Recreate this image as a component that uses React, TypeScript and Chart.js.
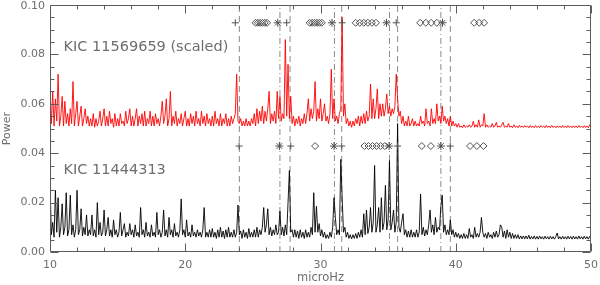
import React, { useEffect, useRef } from 'react';
import { Chart, registerables } from 'chart.js';

Chart.register(...registerables);

// Frequency grid of both spectra (microHz)
const FREQ_START = 10.0;
const FREQ_STEP = 0.1;

// Power of KIC 11569659 (scaled, offset), in units of 1e-3, one value per 0.1 microHz from 10.0 to 50.0
const redPowerMilli = [
  66, 52, 65, 51, 62, 53, 72, 51, 55, 63,
  51, 61, 52, 56, 51, 58, 52, 69, 51, 56,
  61, 51, 55, 59, 51, 54, 58, 52, 55, 51,
  54, 51, 56, 50.5, 54, 51, 53, 57, 51, 54,
  58, 51, 55, 51, 57, 52, 54, 50.5, 56, 51,
  54, 51, 56, 52, 53, 51, 57, 52, 54, 58,
  51, 55, 51, 54, 58, 51, 55, 52, 56, 51,
  57, 51, 54, 52, 57, 51, 55, 51, 56, 52,
  54, 51, 55, 61, 52, 55, 62, 51, 54, 65,
  51, 55, 52, 57, 51, 54, 52, 56, 51, 54,
  57, 51, 54, 51, 56, 52, 55, 51, 57, 52,
  54, 51, 57, 52, 55, 51, 56, 52, 54, 51,
  55, 51, 57, 52, 54, 51, 56, 51, 54, 52,
  56, 51, 54, 51, 55, 52, 54, 56, 72, 53,
  52, 54, 51, 53, 51, 54, 51, 53, 51, 54,
  52, 56, 51, 58, 52, 57, 53, 59, 52, 57,
  53, 58, 65, 52, 56, 53, 57, 52, 65, 54,
  63, 53, 56, 54, 86, 55, 76, 54, 63, 52,
  55, 51, 54, 52, 55, 51, 54, 52, 56, 52,
  56, 62, 53, 58, 54, 57, 69, 53, 58, 54,
  62, 53, 56, 60, 53, 55, 52, 56, 74, 54,
  62, 53, 55, 52, 56, 58, 95, 55, 60, 52,
  54, 51, 53, 50.5, 53, 51, 54, 52, 55, 51,
  55, 52, 56, 52, 57, 53, 55, 68, 54, 62,
  54, 58, 66, 54, 60, 55, 60, 55, 58, 64,
  56, 59, 55, 58, 56, 59, 72, 62, 55, 57,
  52, 55, 51, 53, 51, 55, 51, 52, 54, 51,
  53, 51, 52, 51, 55, 52, 53, 51, 58, 52,
  53, 51, 58, 52, 54, 52, 60, 53, 55, 52,
  59, 53, 55, 52, 54, 51, 55, 51, 53, 51,
  52, 50.5, 52, 50.5, 51, 50.3, 51.5, 50.5, 51, 50.5,
  51.5, 50.5, 51, 53, 50.5, 51.5, 50.5, 53.5, 50.5, 51.5,
  51, 56, 50.5, 51.5, 50.5, 51, 50.5, 52, 50.5, 51,
  52.5, 50.5, 51, 50.5, 51.5, 52.5, 50.5, 51, 50.5, 52,
  50.5, 51, 50.3, 51.5, 50.5, 51, 50.3, 51.3, 50.5, 51,
  50.4, 51.2, 50.5, 51, 50.3, 51.2, 50.4, 51, 50.3, 51.2,
  50.4, 51, 50.3, 51.2, 50.5, 51, 50.3, 51.3, 50.4, 51,
  50.3, 51.2, 50.4, 51, 50.3, 51.1, 50.4, 51, 50.3, 51.2,
  50.4, 51, 50.3, 51.2, 50.4, 51, 50.3, 51.1, 50.4, 51,
  50.3, 51.2, 50.4, 51, 50.3, 51.1, 50.4, 51, 50.3, 51.5,
  50.4,
];

// Power of KIC 11444313, in units of 1e-3, same grid
const blackPowerMilli = [
  28, 7, 12, 6, 25, 8, 22, 6, 10, 19.5,
  7, 10, 24, 6.5, 9, 23, 7, 11, 6, 9,
  25, 7, 9, 17.5, 6.5, 10, 7, 15, 6.5, 9,
  7, 15, 6.5, 9, 6, 20, 7, 12, 6.5, 8,
  17, 6.5, 9, 14, 6.5, 9, 6, 13, 7, 9,
  6, 8, 16, 6.5, 9, 11.5, 6, 8, 6.5, 11.5,
  7, 9, 6, 11, 6.5, 8, 6, 18, 7, 9,
  6, 12, 6.5, 8, 6, 11, 6.5, 8, 6, 16,
  7, 9, 6, 8, 17, 6.5, 9, 6, 14, 7,
  9, 6, 11.5, 6.5, 8, 6, 9, 21.5, 7, 9,
  6, 13, 6.5, 8, 6, 11, 6.5, 8, 6, 9,
  6.5, 8, 6, 9, 18, 6, 8, 6, 9, 6,
  9.5, 6, 8, 5.5, 9, 6, 10, 6, 8.5, 5.5,
  9, 6, 10, 6, 8, 6, 9, 6, 8, 19,
  7, 8.5, 5.5, 9, 6, 8, 5.5, 9.5, 6, 8,
  6, 9, 6, 10, 6, 9, 7, 10, 18, 8,
  11, 17.5, 7, 10, 6.5, 9, 7, 11, 7, 8,
  16.5, 7, 10, 6.5, 11, 7, 20, 33, 8, 9,
  6, 9, 6, 8.5, 5.5, 9, 6, 8, 5.5, 9,
  6, 8, 6, 10, 7, 24, 8, 18.5, 8, 11.5,
  6.5, 9, 6, 8, 5.5, 7, 5.5, 8, 6, 10,
  22, 14, 7, 9, 7, 37.5, 22, 8, 10, 6,
  8, 5.5, 7, 5.3, 7, 5.5, 7.5, 5.5, 8, 6,
  9, 6, 15.5, 7, 17, 7.5, 10, 18, 8, 12,
  35, 8, 11, 18, 8, 22, 9, 12, 27, 9,
  13, 37, 9, 12, 17, 8, 12, 52, 10, 8,
  12, 15.5, 7, 9, 6, 8.5, 6, 9, 6, 8,
  6, 9, 6, 8, 23.5, 7, 10, 6.5, 9, 7,
  11, 17, 8, 11, 7, 14, 8, 10, 9, 18.5,
  23, 8, 11, 7, 9, 7, 13, 7, 9, 6,
  8, 6, 7.5, 5.5, 7, 5.5, 7.5, 5.5, 7, 5.5,
  9.5, 6, 7, 5.5, 10, 6, 7.5, 6, 8, 14,
  8, 6, 7.5, 5.5, 8, 6, 7, 5.5, 8, 6,
  8.5, 6, 7, 11, 10, 6, 8.5, 5.5, 9, 6,
  8, 5.5, 7.5, 5.5, 7, 5.5, 7, 5.3, 6.5, 5.3,
  6.5, 5.3, 6.5, 5.3, 6.8, 5.2, 6.3, 5.3, 6.5, 5.2,
  6.3, 5.2, 6.5, 5.3, 6.2, 5.2, 6.4, 5.3, 6.2, 5.2,
  6.4, 5.3, 6.2, 5.2, 6.3, 7.7, 5.3, 6.2, 5.2, 6.4,
  5.3, 6.2, 5.2, 6.4, 5.3, 6.3, 5.2, 6.4, 5.3, 6.2,
  5.2, 6.5, 5.3, 6.2, 5.2, 6.4, 5.3, 6.2, 5.2, 6.3,
  5.3,
];

// Mode frequencies (microHz)
const dashedLines = [24.0, 27.75, 31.57, 35.7, 39.6];
const dashDotLines = [27.0, 31.03, 35.1, 38.9];

const redMarkerLevel = 0.0928;
const redPlus = [23.7, 27.5, 31.6, 35.6];
const redStar = [26.84, 30.85, 34.88, 39.02];
const redDiamond = [
  25.2, 25.37, 25.54, 25.71, 25.88, 26.05,
  29.2, 29.38, 29.56, 29.74, 29.92, 30.1,
  32.6, 32.9, 33.2, 33.5, 33.8, 34.1,
  37.37, 37.79, 38.18, 38.6,
  41.36, 41.73, 42.1,
];

const blackMarkerLevel = 0.0429;
const blackPlus = [23.98, 27.8, 31.57, 35.69, 39.59];
const blackStar = [26.96, 31.0, 35.07, 38.9];
const blackDiamond = [29.6, 33.25, 33.55, 33.85, 34.15, 34.45, 34.75, 37.49, 38.16, 41.06, 41.56, 42.05];

// Axes
const xMajorTicks = [10, 20, 30, 40, 50];
const xMinorTicks = [12, 14, 16, 18, 22, 24, 26, 28, 32, 34, 36, 38, 42, 44, 46, 48];
const yMajorTicks = [0, 0.02, 0.04, 0.06, 0.08, 0.1];
const yMinorTicks = [0.005, 0.01, 0.015, 0.025, 0.03, 0.035, 0.045, 0.05, 0.055, 0.065, 0.07, 0.075, 0.085, 0.09, 0.095];
const xTitle = 'microHz';
const yTitle = 'Power';

const starLabels = [
  { text: 'KIC 11569659 (scaled)', x: 11.0, y: 0.0814 },
  { text: 'KIC 11444313', x: 11.0, y: 0.0315 },
];

const FONT = '"DejaVu Sans", "Liberation Sans", sans-serif';
const AXIS_COLOR = '#5c5c5c';
const TEXT_COLOR = '#6e6e6e';

const idlAxes = {
  id: 'idlAxes',
  afterDatasetsDraw(chart: any) {
    const { ctx, chartArea: a, scales } = chart;
    const xs = scales.x;
    const ys = scales.y;
    ctx.save();
    ctx.strokeStyle = AXIS_COLOR;
    ctx.lineWidth = 1;
    const L = Math.round(a.left) + 0.5;
    const R = Math.round(a.right) - 0.5;
    const T = Math.round(a.top) + 0.5;
    const B = Math.round(a.bottom) - 0.5;
    ctx.beginPath();
    ctx.rect(L, T, R - L, B - T);
    ctx.stroke();

    const tick = (vals: number[], len: number, horiz: boolean) => {
      ctx.beginPath();
      for (const v of vals) {
        if (horiz) {
          const px = Math.round(xs.getPixelForValue(v)) + 0.5;
          ctx.moveTo(px, B);
          ctx.lineTo(px, B - len);
          ctx.moveTo(px, T);
          ctx.lineTo(px, T + len);
        } else {
          const py = Math.round(ys.getPixelForValue(v)) + 0.5;
          ctx.moveTo(L, py);
          ctx.lineTo(L + len, py);
          ctx.moveTo(R, py);
          ctx.lineTo(R - len, py);
        }
      }
      ctx.stroke();
    };
    tick(xMajorTicks, 8, true);
    tick(xMinorTicks, 4, true);
    tick(yMajorTicks, 8, false);
    tick(yMinorTicks, 4, false);

    ctx.fillStyle = TEXT_COLOR;
    ctx.font = `11px ${FONT}`;
    ctx.textAlign = 'center';
    ctx.textBaseline = 'middle';
    for (const v of xMajorTicks) {
      ctx.fillText(String(v), xs.getPixelForValue(v), a.bottom + 13);
    }
    ctx.textAlign = 'right';
    for (const v of yMajorTicks) {
      const py = Math.max(ys.getPixelForValue(v), 6);
      ctx.fillText(v.toFixed(2), a.left - 5, py);
    }
    ctx.textAlign = 'center';
    ctx.font = `11.5px ${FONT}`;
    ctx.fillText(xTitle, (a.left + a.right) / 2, a.bottom + 26);
    ctx.save();
    ctx.translate(7, (a.top + a.bottom) / 2);
    ctx.rotate(-Math.PI / 2);
    ctx.font = `11px ${FONT}`;
    ctx.fillText(yTitle, 0, 0);
    ctx.restore();

    ctx.font = `14.5px ${FONT}`;
    ctx.textAlign = 'left';
    ctx.textBaseline = 'alphabetic';
    for (const l of starLabels) {
      ctx.fillText(l.text, xs.getPixelForValue(l.x), ys.getPixelForValue(l.y));
    }
    ctx.restore();
  },
};

function spectrum(values: number[]) {
  return values.map((v, i) => ({ x: FREQ_START + i * FREQ_STEP, y: v / 1000 }));
}

function markers(freqs: number[], level: number) {
  return freqs.map((f) => ({ x: f, y: level }));
}

function vline(f: number, dash: number[]) {
  return {
    data: [{ x: f, y: 0 }, { x: f, y: 0.1 }],
    showLine: true,
    borderColor: '#8a8a8a',
    borderWidth: 1,
    borderDash: dash,
    pointRadius: 0,
    order: 3,
  };
}

function markerSet(freqs: number[], level: number, style: string, radius: number) {
  return {
    data: markers(freqs, level),
    showLine: false,
    pointStyle: style,
    pointRadius: radius,
    pointBorderColor: '#505050',
    pointBackgroundColor: 'rgba(0,0,0,0)',
    pointBorderWidth: 1,
    order: 1,
  };
}

export default function App() {
  const ref = useRef<HTMLCanvasElement | null>(null);
  useEffect(() => {
    if (!ref.current) return;
    const datasets: any[] = [
      ...dashedLines.map((f) => vline(f, [6, 4])),
      ...dashDotLines.map((f) => vline(f, [6, 3, 1, 3])),
      {
        data: spectrum(redPowerMilli),
        showLine: true,
        borderColor: '#ff0000',
        borderWidth: 0.9,
        pointRadius: 0,
        order: 2,
      },
      {
        data: spectrum(blackPowerMilli),
        showLine: true,
        borderColor: '#000000',
        borderWidth: 0.9,
        pointRadius: 0,
        order: 2,
      },
      markerSet(redPlus, redMarkerLevel, 'cross', 3.5),
      markerSet(redStar, redMarkerLevel, 'star', 4),
      markerSet(redDiamond, redMarkerLevel, 'rectRot', 3.5),
      markerSet(blackPlus, blackMarkerLevel, 'cross', 3.5),
      markerSet(blackStar, blackMarkerLevel, 'star', 4),
      markerSet(blackDiamond, blackMarkerLevel, 'rectRot', 3.5),
    ];
    const chart = new Chart(ref.current, {
      type: 'scatter',
      data: { datasets },
      options: {
        responsive: false,
        animation: false,
        events: [],
        layout: { padding: { left: 50, right: 9, top: 2.5, bottom: 33 } },
        plugins: { legend: { display: false }, tooltip: { enabled: false } },
        scales: {
          x: { type: 'linear', min: 10, max: 50, display: false },
          y: { type: 'linear', min: 0, max: 0.1, display: false },
        },
      },
      plugins: [idlAxes],
    } as any);
    return () => chart.destroy();
  }, []);
  return (
    <div style={{ position: 'fixed', left: 0, top: 0, width: 600, height: 285, background: '#fff' }}>
      <canvas ref={ref} width={600} height={285} style={{ display: 'block' }} />
    </div>
  );
}
